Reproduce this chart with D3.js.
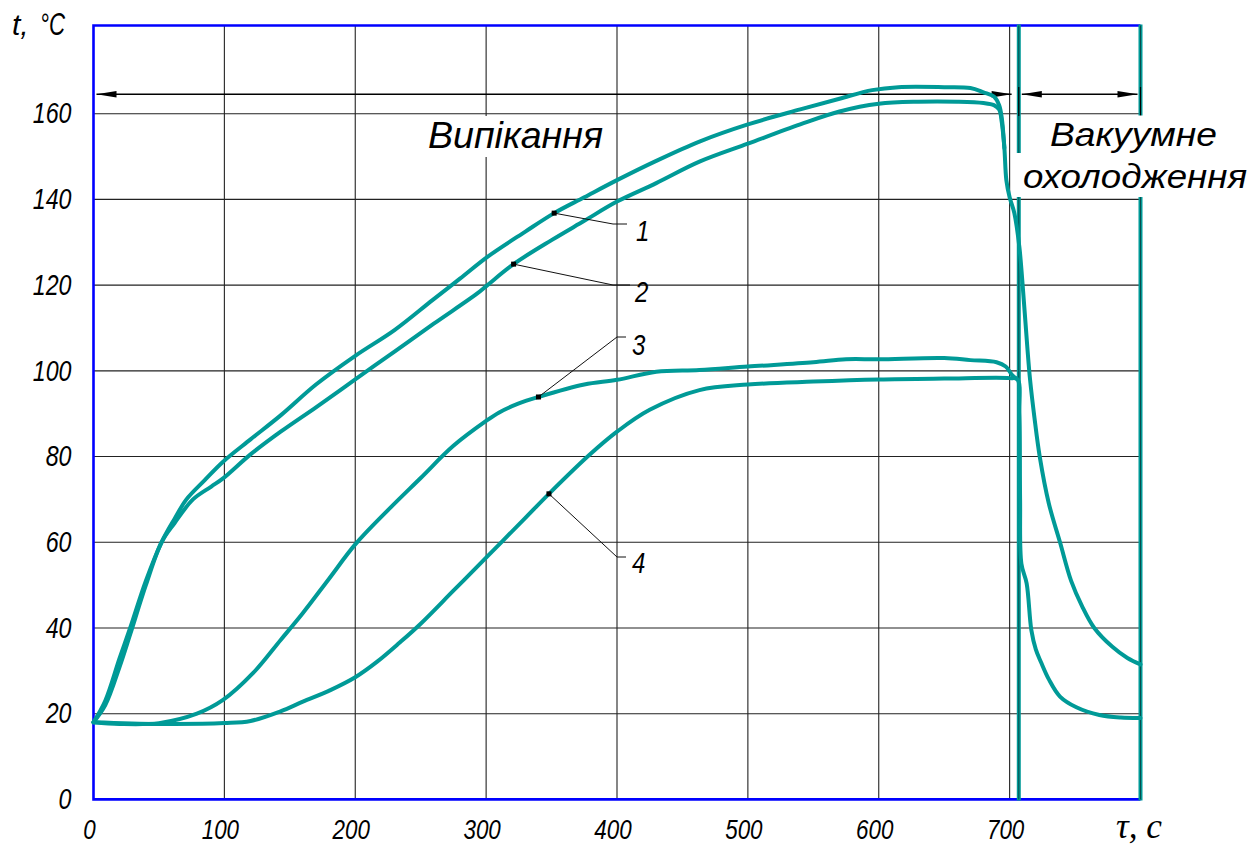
<!DOCTYPE html>
<html><head><meta charset="utf-8">
<script src="https://cdn.jsdelivr.net/npm/d3@7"></script>
<style>
body{margin:0;background:#fff;}
svg{display:block;background:#fff;}
text{font-family:'Liberation Sans',Arimo,Arial,sans-serif;font-style:italic;fill:#000;}
</style></head><body>
<svg id="chart" width="1255" height="846"></svg>
<script>
// Axis ticks
const timeTicks = [0, 100, 200, 300, 400, 500, 600, 700];
const tempTicks = [0, 20, 40, 60, 80, 100, 120, 140, 160];

// Temperature curves, [time s, temperature °C]
const curve1 = [[0,18],[9,23],[20,33],[28,40],[40,51],[52,60],[62,65.5],[71,70],[85,74.5],[99,78.8],[120,84],[143,89.6],[170,96.8],[200,103.5],[230,109.5],[259,116.5],[280,121.5],[301,126.6],[330,132.5],[352,136.8],[375,140.5],[400,144.5],[430,149],[463,153.5],[500,157.5],[540,161],[570,163.5],[595,165.5],[615,166.2],[650,166.2],[670,166],[680,165],[688,164],[692,162],[694,159],[696,152],[697.5,144.5],[700,140.5],[703.6,136.8],[707.4,129],[709.7,121],[713.5,105.6],[715.6,98],[719,89],[723,80],[730,69],[738.5,60],[747,51],[755.5,45],[764.7,40],[778.5,35.6],[790,33],[800,31.5]];
const curve2 = [[0,18],[9,22],[20,31],[28,38.5],[40,50],[52,60],[62,64.5],[76,70],[90,73],[99,74.9],[120,80.5],[143,85.8],[170,91.5],[200,98],[230,104.5],[260,111],[293,118],[301,120],[321,124.9],[350,130.5],[375,135],[400,139.5],[430,143.8],[463,148.8],[500,153],[540,157.5],[570,160.5],[600,162.3],[630,162.8],[660,162.8],[680,162.5],[688,162],[692,161],[694,158],[696,152]];
const curve3 = [[0,18],[20,17.6],[50,17.8],[79,20],[99,23.2],[122,29.5],[143,37.2],[160,43.5],[180,51.5],[200,59.5],[225,67.5],[250,75],[275,82.5],[300,88.3],[310,90.3],[325,92.4],[340,93.9],[375,96.8],[400,97.9],[430,99.8],[463,100.2],[500,101],[550,102],[575,102.7],[600,102.7],[650,103],[670,102.5],[690,102],[697,101],[702,99],[706,98]];
const curve4 = [[0,18],[50,17.6],[100,17.8],[120,18.3],[142.5,20.5],[160,22.8],[181,25.5],[200,28.5],[217,32.2],[234,36.6],[250,41],[275,48.7],[300,56.4],[330,65.7],[348,71.3],[379,80.4],[400,85.8],[425,90.9],[463,95.5],[500,96.8],[550,97.5],[600,98],[650,98.2],[700,98.3],[706,98],[707.5,90],[708,70],[709,55],[713,50.4],[716.6,39.5],[720,35],[724,32],[730,28],[738.5,24],[751,21.5],[768.6,19.7],[785,19.1],[800,19]];

// Process stages (time, s)
const bakeSpan = [0, 700];
const coolSpan = [707, 800];
const bakeLabel = "Випікання";
const coolLabel = ["Вакуумне", "охолодження"];

// Curve numbering and where each callout touches its curve (time, s)
const curveNames = ["1", "2", "3", "4"];
const calloutAt = [352, 321, 340, 348];

const svg = d3.select("#chart");
const plotL = 93.5, plotR = 1140.5, plotT = 25.5, plotB = 799.4;
const x = d3.scaleLinear().domain([0, 800]).range([plotL, plotR]);
const y = d3.scaleLinear().domain([0, 160]).range([plotB, 113.7]);

const teal = "#009a97";
const squeeze = 0.8; // narrow drafting-style lettering
const series = [curve1, curve2, curve3, curve4];

// Grid
svg.append("g").selectAll("line").data(timeTicks.filter(d => d > 0)).join("line")
  .attr("x1", d => x(d)).attr("x2", d => x(d)).attr("y1", plotT).attr("y2", plotB)
  .attr("stroke", "#222").attr("stroke-width", 1.1);
svg.append("g").selectAll("line").data(tempTicks.filter(d => d > 0)).join("line")
  .attr("x1", plotL).attr("x2", plotR).attr("y1", d => y(d)).attr("y2", d => y(d))
  .attr("stroke", "#222").attr("stroke-width", 1.1);

// Frame (blue on three sides)
svg.append("path")
  .attr("d", `M${plotR},${plotT}H${plotL}V${plotB}H${plotR}`)
  .attr("fill", "none").attr("stroke", "#0000ff").attr("stroke-width", 2.6);

// Stage boundaries
const bounds = [coolSpan[0], coolSpan[1]];
svg.append("g").selectAll("line").data(bounds).join("line")
  .attr("x1", d => x(d)).attr("x2", d => x(d)).attr("y1", plotT - 1).attr("y2", plotB + 1)
  .attr("stroke", teal).attr("stroke-width", 4);
svg.append("g").selectAll("line").data(bounds).join("line")
  .attr("x1", d => x(d)).attr("x2", d => x(d)).attr("y1", plotT).attr("y2", plotB)
  .attr("stroke", "#0a3a3a").attr("stroke-width", 0.8);

// Dimension lines for the two stages
const dimY = 94.3;
const dimG = svg.append("g");
function arrow(tipX, dir) {
  const len = 20, half = 3.2;
  dimG.append("path")
    .attr("d", `M${tipX},${dimY}L${tipX + dir * len},${dimY - half}L${tipX + dir * len},${dimY + half}Z`)
    .attr("fill", "#000");
}
[[x(bakeSpan[0]) + 3, x(bakeSpan[1]) + 2], [x(coolSpan[0]) + 3, x(coolSpan[1]) - 3]].forEach(([a, b]) => {
  dimG.append("line").attr("x1", a).attr("x2", b).attr("y1", dimY).attr("y2", dimY)
    .attr("stroke", "#000").attr("stroke-width", 1.4);
  arrow(a, 1); arrow(b, -1);
});
[coolSpan[0], coolSpan[1]].forEach(d => {
  dimG.append("line").attr("x1", x(d)).attr("x2", x(d)).attr("y1", 87).attr("y2", 116)
    .attr("stroke", "#000").attr("stroke-width", 1.2);
});

// Stage captions on white backing
function caption(str, x0, x1, base, size, box) {
  svg.append("rect").attr("x", box[0]).attr("y", box[1]).attr("width", box[2]).attr("height", box[3]).attr("fill", "#fff");
  svg.append("text").attr("x", x0).attr("y", base).attr("font-size", size)
    .attr("textLength", x1 - x0).attr("lengthAdjust", "spacingAndGlyphs").text(str);
}
caption(bakeLabel, 428, 603, 148, 37, [420, 116, 195, 41]);
caption(coolLabel[0], 1050, 1217, 146, 34, [1044, 115.5, 180, 38]);
caption(coolLabel[1], 1023, 1247, 188, 34, [1016, 153, 239, 44]);

// Curves
const line = d3.line().x(d => x(d[0])).y(d => y(d[1])).curve(d3.curveCatmullRom.alpha(0.5));
svg.append("g").selectAll("path").data(series).join("path")
  .attr("d", line).attr("fill", "none").attr("stroke", teal)
  .attr("stroke-width", 4).attr("stroke-linejoin", "round").attr("stroke-linecap", "round");

// Callouts
function valueAt(s, t) {
  const i = d3.bisector(d => d[0]).right(s, t);
  const a = s[i - 1], b = s[i];
  return a[1] + (b[1] - a[1]) * (t - a[0]) / (b[0] - a[0]);
}
const calloutLayout = [
  {elbow: [613, 224], end: [627, 224], label: [636, 241]},
  {elbow: [613, 285], end: [630, 285], label: [635, 302]},
  {elbow: [617, 337], end: [626, 337], label: [632, 355]},
  {elbow: [617, 557], end: [626, 557], label: [632, 573]}
];
const cg = svg.append("g");
series.forEach((s, i) => {
  const px = x(calloutAt[i]), py = y(valueAt(s, calloutAt[i]));
  const L = calloutLayout[i];
  cg.append("path").attr("d", `M${px},${py}L${L.elbow[0]},${L.elbow[1]}L${L.end[0]},${L.end[1]}`)
    .attr("fill", "none").attr("stroke", "#111").attr("stroke-width", 1);
  cg.append("rect").attr("x", px - 2.5).attr("y", py - 2.5).attr("width", 5).attr("height", 5).attr("fill", "#000");
  cg.append("text").attr("x", L.label[0] / squeeze).attr("y", L.label[1]).attr("font-size", 30)
    .attr("transform", `scale(${squeeze},1)`).text(curveNames[i]);
});

// Axes labels (narrowed horizontally)
function narrow(g) {
  g.selectAll("text").each(function () {
    const t = d3.select(this);
    const xv = +t.attr("x") || 0;
    t.attr("x", xv / squeeze).attr("transform", `scale(${squeeze},1)`).attr("fill", "#000");
  });
}
const yAxis = d3.axisLeft(y).tickValues(tempTicks).tickSize(0).tickPadding(22);
svg.append("g").attr("transform", `translate(${plotL},0)`).call(yAxis)
  .attr("font-size", 29).attr("font-family", null)
  .call(g => g.select(".domain").remove())
  .call(narrow);
const xAxis = d3.axisBottom(x).tickValues(timeTicks).tickSize(0).tickPadding(19.6);
svg.append("g").attr("transform", `translate(0,${plotB})`).call(xAxis)
  .attr("font-size", 28).attr("font-family", null)
  .call(g => g.select(".domain").remove())
  .call(narrow)
  .call(g => g.selectAll("text").attr("dx", "-0.2em"));

// Axis titles
svg.append("text").attr("x", 12).attr("y", 35).attr("font-size", 30).text("t,");
svg.append("text").attr("x", 40).attr("y", 35).attr("font-size", 32)
  .attr("textLength", 25).attr("lengthAdjust", "spacingAndGlyphs").text("°C");
svg.append("text").attr("x", 1116).attr("y", 838).attr("font-size", 36)
  .style("font-family", "'Liberation Serif', serif")
  .attr("textLength", 46).attr("lengthAdjust", "spacingAndGlyphs").text("τ, c");
</script>
</body></html>
